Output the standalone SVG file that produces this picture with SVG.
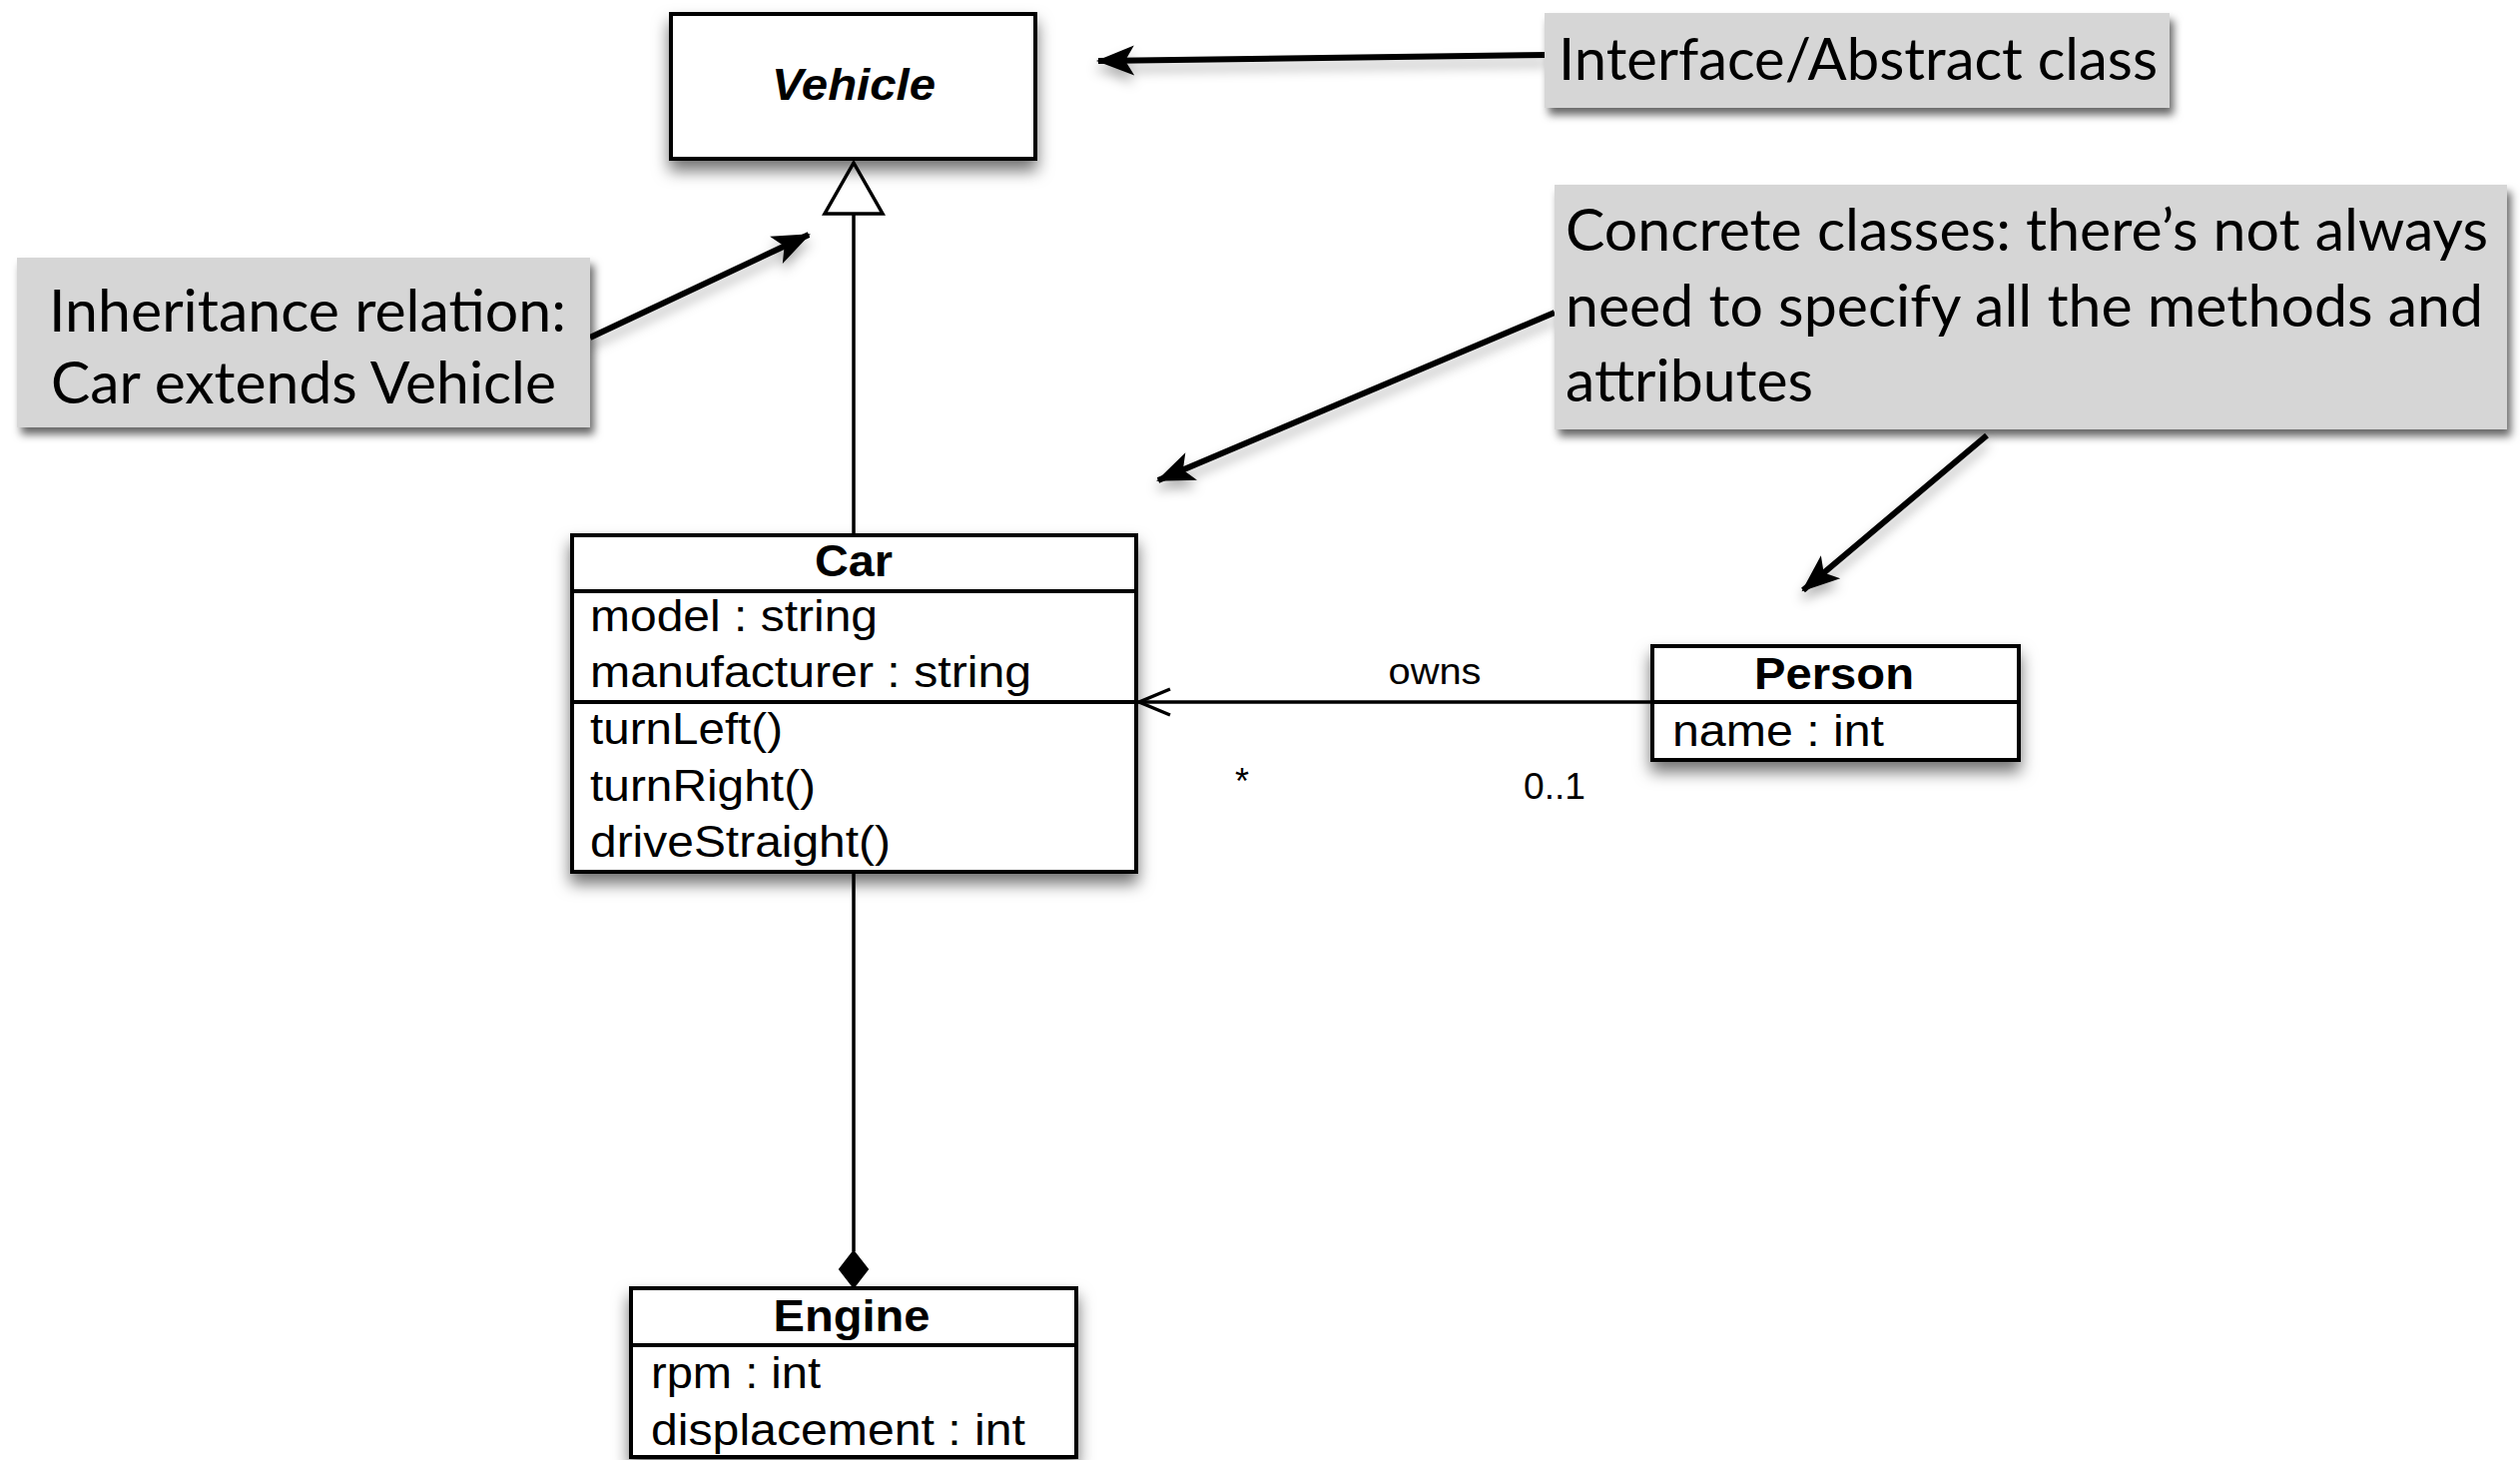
<svg xmlns="http://www.w3.org/2000/svg" width="2524" height="1462" viewBox="0 0 2524 1462">
  <defs>
    <style>
      .uml { fill: #ffffff; stroke: #000000; stroke-width: 4; }
      .div { stroke: #000000; stroke-width: 4; }
      .t { font-family: "Liberation Sans", Arial, Helvetica, sans-serif; font-size: 44px; fill: #000; }
      .tb { font-family: "Liberation Sans", Arial, Helvetica, sans-serif; font-size: 44px; font-weight: bold; fill: #000; text-anchor: middle; }
      .small { font-family: "Liberation Sans", Arial, Helvetica, sans-serif; font-size: 36px; fill: #000; }
      .note { fill: #d6d6d6; stroke: none; }
      .nt { font-family: Lato, "Open Sans", "Noto Sans", sans-serif; font-size: 58px; fill: #000; }
      .conn { stroke: #000; stroke-width: 3.5; fill: none; }
      .ann { stroke: #000; stroke-width: 6; fill: none; marker-end: url(#ah); }
    </style>
    <filter id="sh" x="-20%" y="-30%" width="140%" height="170%">
      <feDropShadow dx="0" dy="10" stdDeviation="8" flood-color="#000" flood-opacity="0.55"/>
    </filter>
    <filter id="shn" x="-10%" y="-20%" width="125%" height="150%">
      <feDropShadow dx="4" dy="7" stdDeviation="4" flood-color="#000" flood-opacity="0.6"/>
    </filter>
    <filter id="sha" x="-20%" y="-40%" width="140%" height="200%">
      <feDropShadow dx="0" dy="8" stdDeviation="6" flood-color="#000" flood-opacity="0.3"/>
    </filter>
    <marker id="ah" viewBox="-40 -20 44 40" refX="0" refY="0" markerWidth="44" markerHeight="40" markerUnits="userSpaceOnUse" orient="auto">
      <path d="M2,0 L-36,-15 L-27,0 L-36,15 Z" fill="#000"/>
    </marker>
  </defs>
  <rect width="2524" height="1462" fill="#ffffff"/>

  <g id="connectors">
    <!-- generalization Car -> Vehicle -->
    <line class="conn" x1="855" y1="214" x2="855" y2="536"/>
    <polygon points="855,163 884,214 826,214" fill="#fff" stroke="#000" stroke-width="3.5" stroke-linejoin="miter"/>
    <!-- association Person -> Car -->
    <line class="conn" x1="1655" y1="703" x2="1140" y2="703"/>
    <polyline class="conn" points="1172,690 1141,703 1172,716"/>
    <text class="small" x="1437" y="685" text-anchor="middle" textLength="93" lengthAdjust="spacingAndGlyphs">owns</text>
    <text class="small" x="1244" y="795" text-anchor="middle">*</text>
    <text class="small" x="1526" y="800" textLength="62" lengthAdjust="spacingAndGlyphs">0..1</text>
    <!-- composition Car - Engine -->
    <line class="conn" x1="855" y1="873" x2="855" y2="1253"/>
    <polygon points="855,1253 869,1271 855,1289 841,1271" fill="#000" stroke="#000" stroke-width="2"/>
    <!-- annotation arrows -->
    <g filter="url(#sha)">
      <line class="ann" x1="1549" y1="55" x2="1100" y2="61"/>
      <line class="ann" x1="591" y1="338" x2="810" y2="235"/>
      <line class="ann" x1="1557" y1="313" x2="1160" y2="481"/>
      <line class="ann" x1="1990" y1="436" x2="1806" y2="591"/>
    </g>
  </g>

  <g id="vehicle">
    <rect class="uml" x="672" y="14" width="365" height="145" filter="url(#sh)"/>
    <text class="tb" x="855" y="100" font-style="italic" font-size="48" textLength="164" lengthAdjust="spacingAndGlyphs">Vehicle</text>
  </g>

  <g id="car">
    <rect class="uml" x="573" y="536" width="565" height="337" filter="url(#sh)"/>
    <line class="div" x1="573" y1="592" x2="1138" y2="592"/>
    <line class="div" x1="573" y1="703" x2="1138" y2="703"/>
    <text class="tb" x="855" y="577" textLength="78" lengthAdjust="spacingAndGlyphs">Car</text>
    <text class="t" x="591" y="632" textLength="288" lengthAdjust="spacingAndGlyphs">model : string</text>
    <text class="t" x="591" y="688" textLength="442" lengthAdjust="spacingAndGlyphs">manufacturer : string</text>
    <text class="t" x="591" y="745" textLength="193" lengthAdjust="spacingAndGlyphs">turnLeft()</text>
    <text class="t" x="591" y="802" textLength="226" lengthAdjust="spacingAndGlyphs">turnRight()</text>
    <text class="t" x="591" y="858" textLength="301" lengthAdjust="spacingAndGlyphs">driveStraight()</text>
  </g>

  <g id="person">
    <rect class="uml" x="1655" y="647" width="367" height="114" filter="url(#sh)"/>
    <line class="div" x1="1655" y1="703" x2="2022" y2="703"/>
    <text class="tb" x="1837" y="690" textLength="160" lengthAdjust="spacingAndGlyphs">Person</text>
    <text class="t" x="1675" y="747" textLength="212" lengthAdjust="spacingAndGlyphs">name : int</text>
  </g>

  <g id="engine">
    <rect class="uml" x="632" y="1290" width="446" height="169" filter="url(#sh)"/>
    <line class="div" x1="632" y1="1347" x2="1078" y2="1347"/>
    <text class="tb" x="853" y="1333" textLength="157" lengthAdjust="spacingAndGlyphs">Engine</text>
    <text class="t" x="652" y="1390" textLength="170" lengthAdjust="spacingAndGlyphs">rpm : int</text>
    <text class="t" x="652" y="1447" textLength="375" lengthAdjust="spacingAndGlyphs">displacement : int</text>
  </g>

  <g id="note-interface">
    <rect class="note" x="1547" y="13" width="626" height="95" filter="url(#shn)"/>
    <text class="nt" x="1561" y="80" font-size="60" textLength="600" lengthAdjust="spacingAndGlyphs">Interface/Abstract class</text>
  </g>

  <g id="note-inheritance">
    <rect class="note" x="17" y="258" width="574" height="170" filter="url(#shn)"/>
    <text class="nt" x="49" y="332" font-size="60" textLength="518" lengthAdjust="spacingAndGlyphs">Inheritance relation:</text>
    <text class="nt" x="51" y="404" font-size="60" textLength="506" lengthAdjust="spacingAndGlyphs">Car extends Vehicle</text>
  </g>

  <g id="note-concrete">
    <rect class="note" x="1557" y="185" width="954" height="245" filter="url(#shn)"/>
    <text class="nt" x="1568" y="251" textLength="924" lengthAdjust="spacingAndGlyphs">Concrete classes: there’s not always</text>
    <text class="nt" x="1568" y="327" textLength="919" lengthAdjust="spacingAndGlyphs">need to specify all the methods and</text>
    <text class="nt" x="1568" y="402" textLength="248" lengthAdjust="spacingAndGlyphs">attributes</text>
  </g>
</svg>
